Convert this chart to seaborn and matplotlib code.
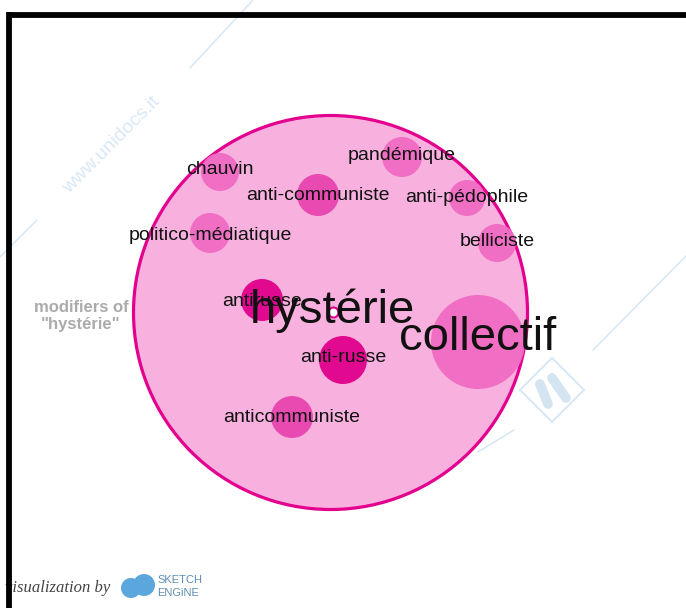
import matplotlib
matplotlib.use("Agg")
import matplotlib.pyplot as plt
import seaborn as sns
import pandas as pd
from matplotlib.patches import Polygon

# collocates of "hystérie" (pixel layout taken from the sketch engine picture)
words = ["chauvin", "pandémique", "anti-communiste", "anti-pédophile",
         "politico-médiatique", "belliciste", "antirusse", "anti-russe",
         "collectif", "anticommuniste"]
node_x = [220, 402, 318, 467, 210, 497, 262, 343, 478, 292]
node_y = [172, 157, 195, 198, 233, 243, 300, 360, 342, 417]
node_r = [19, 20, 21, 18, 20, 19, 21, 24, 47, 21]
shade = ["light", "light", "mid", "light", "light", "light", "dark", "dark", "light", "mid"]
label_size = [14, 14, 14, 14, 14, 14, 14, 14, 34, 14]
label_dy = [-2, -1, 0, -1, 2, -1, 2, -2, -4, 0]

keyword = "hystérie"
key_x, key_y, key_r = 330, 312, 198

palette = {"light": "#F06BC3", "mid": "#E845B0", "dark": "#E0008B"}

def px_to_s(r):
    # scatter size (points^2) for a circle of radius r pixels at 100 dpi
    return (2 * r * 0.72) ** 2

df = pd.DataFrame({"word": words, "x": node_x, "y": node_y, "r": node_r,
                   "shade": shade, "fs": label_size, "dy": label_dy})

sns.set_style("white")
plt.rcParams["font.family"] = ["Liberation Sans", "DejaVu Sans"]

fig = plt.figure(figsize=(6.86, 6.08), dpi=100)
ax = fig.add_axes([0, 0, 1, 1])
ax.set_xlim(0, 686)
ax.set_ylim(608, 0)
ax.set_axis_off()

# faint watermark lines
wm = "#D9E8F5"
for (x0, y0), (x1, y1) in [((190, 68), (253, 0)), ((0, 257), (37, 220)),
                           ((593, 350), (686, 256)), ((478, 452), (514, 430))]:
    ax.plot([x0, x1], [y0, y1], color=wm, lw=1.2, zorder=0)
ax.text(112, 145, "www.unidocs.it", rotation=45, color=wm, fontsize=14,
        ha="center", va="center", zorder=0)

# big keyword circle
sns.scatterplot(x=[key_x], y=[key_y], s=px_to_s(key_r - 1), color="#F8B1DE",
                edgecolor="#E3008E", linewidth=2.3, ax=ax, zorder=2, legend=False)

# collocate circles
sns.scatterplot(data=df, x="x", y="y", hue="shade", palette=palette,
                s=[px_to_s(r) for r in df["r"]], linewidth=0, alpha=0.95,
                ax=ax, zorder=3, legend=False)

# tiny keyword node
sns.scatterplot(x=[key_x + 3], y=[key_y], s=px_to_s(5), color="white",
                edgecolor="#E3008E", linewidth=1.5, ax=ax, zorder=4, legend=False)

for _, row in df.iterrows():
    ax.text(row["x"], row["y"] + row["dy"], row["word"], fontsize=row["fs"],
            ha="center", va="center", color="#111111", zorder=5)
ax.text(key_x + 2, key_y - 1, keyword, fontsize=34, ha="center", va="center",
        color="#111111", zorder=5)

ax.text(81, 308, "modifiers of", fontsize=12, fontweight="bold", color="#ABABAB",
        ha="center", va="center", zorder=5)
ax.text(81, 324, '"hystérie"', fontsize=12, fontweight="bold", color="#ABABAB",
        ha="center", va="center", zorder=5)

# "ih" watermark logo
ax.add_patch(Polygon([(552, 358), (584, 390), (552, 422), (520, 390)], closed=True,
                     fill=False, edgecolor=wm, lw=1.5, zorder=1))
ax.plot([540, 548], [384, 404], color="#D4E4F1", lw=7, solid_capstyle="round", zorder=1)
ax.plot([552, 566], [378, 398], color="#D4E4F1", lw=7, solid_capstyle="round", zorder=1)

# footer
ax.text(5, 588, "visualization by", fontsize=12, style="italic", family="Liberation Serif",
        color="#444444", ha="left", va="center", zorder=5)
sns.scatterplot(x=[131, 144], y=[588, 585], s=[px_to_s(10), px_to_s(11)],
                color="#5AA6DD", linewidth=0, ax=ax, zorder=5, legend=False)
ax.text(157, 580, "SKETCH", fontsize=8, color="#5F8DB3", ha="left", va="center", zorder=5)
ax.text(157, 593, "ENGiNE", fontsize=8, color="#5F8DB3", ha="left", va="center", zorder=5)

# black frame on the top and left
ax.plot([9, 686], [14.5, 14.5], color="black", lw=4.2, solid_capstyle="butt", zorder=6)
ax.plot([9, 9], [12, 608], color="black", lw=4.2, solid_capstyle="butt", zorder=6)

fig.savefig("out.png", dpi=100)
